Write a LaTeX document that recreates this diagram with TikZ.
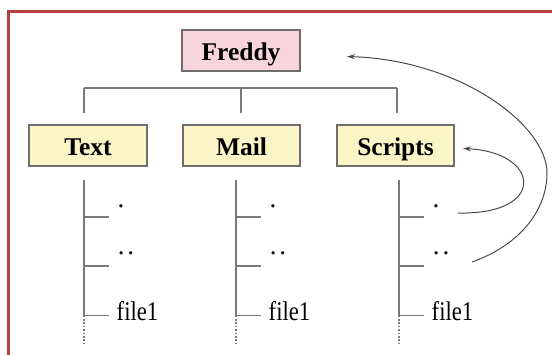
\documentclass[tikz,border=0pt]{standalone}
\usepackage{fontspec}
\setmainfont{Liberation Serif}
\usetikzlibrary{arrows.meta}
\definecolor{frame}{HTML}{B3403E}
\definecolor{pinkfill}{HTML}{F8D5DC}
\definecolor{yellowfill}{HTML}{FBF4C6}
\definecolor{boxline}{HTML}{6E6E6E}
\definecolor{treeline}{HTML}{7A7A7A}
\definecolor{curveline}{HTML}{4A4A4A}
\tikzset{
  dirbox/.style={draw=boxline,line width=1.3pt,minimum width=118pt,minimum height=41pt,inner sep=0pt,
    text height=19pt,text depth=0pt,font=\fontsize{25.5}{28}\selectfont\bfseries},
  treestroke/.style={draw=treeline,line width=1.6pt},
  dotstroke/.style={draw=treeline,line width=1.6pt,dash pattern=on 1.6pt off 1.8pt},
  entry/.style={inner sep=0pt,font=\fontsize{27}{30}\selectfont},
  linkcurve/.style={draw=curveline,line width=1pt,-{Stealth[length=8pt,width=5pt]}}
}
\newcommand{\filelabel}{\scalebox{0.84}[1]{file1}}
\newcommand{\twodots}{.\kern3pt.}
\begin{document}
\begin{tikzpicture}[x=1pt,y=-1pt]
\useasboundingbox (0,0) rectangle (552,354);
\fill[white] (0,0) rectangle (552,354);
% frame
\begin{scope}
\clip (0,0) rectangle (552,354);
\draw[frame,line width=3pt] (8.3,360) -- (8.3,11.5) -- (560,11.5);
\end{scope}
% boxes
\node[dirbox,fill=pinkfill] (freddy) at (241,50.5) {Freddy};
\node[dirbox,fill=yellowfill] (text) at (88,145.5) {Text};
\node[dirbox,fill=yellowfill,minimum width=117pt] (mail) at (241.5,145.5) {Mail};
\node[dirbox,fill=yellowfill,minimum width=117pt] (scripts) at (395.5,145.5) {Scripts};
% top bar
\coordinate (barL) at (84,88);
\coordinate (barM) at (241,88);
\coordinate (barR) at (397,88);
\draw[treestroke] (barL) -- (barR);
\draw[treestroke] (barL) -- ++(0,25);
\draw[treestroke] (barM) -- ++(0,25);
\draw[treestroke] (barR) -- ++(0,25);
% columns
\foreach \nm/\cx in {t/84,m/236,s/399}{
  \coordinate (\nm top) at (\cx,180);
  \coordinate (\nm bot) at (\cx,315.5);
  \coordinate (\nm end) at (\cx,344);
  \draw[treestroke] (\nm top) -- (\nm bot);
  \draw[dotstroke] (\nm bot) -- (\nm end);
  \coordinate (\nm a) at (\cx,216.7);
  \coordinate (\nm b) at (\cx,266);
  \draw[treestroke] (\nm a) -- ++(25,0);
  \draw[treestroke] (\nm b) -- ++(25,0);
  \draw[treestroke] (\nm bot) -- ++(25,0);
  \node[entry,anchor=base] (\nm dot) at (\cx+37,207) {.};
  \node[entry,anchor=base] (\nm dots) at (\cx+42,254) {\twodots};
  \node[entry,anchor=base west] (\nm file) at (\cx+32.5,320) {\filelabel};
}
% curved links
\coordinate (c1start) at (458,213);
\coordinate (c1tip) at (463,148.5);
\coordinate (c2start) at (472,262);
\coordinate (c2mid) at (547,173);
\coordinate (c2tip) at (347,56.5);
\draw[linkcurve] (c1start) .. controls (548,215) and (540,152) .. (c1tip);
\draw[linkcurve] (c2start) .. controls (520,245) and (547,210) .. (c2mid)
  .. controls (547,125) and (460,60) .. (c2tip);
\end{tikzpicture}
\end{document}
